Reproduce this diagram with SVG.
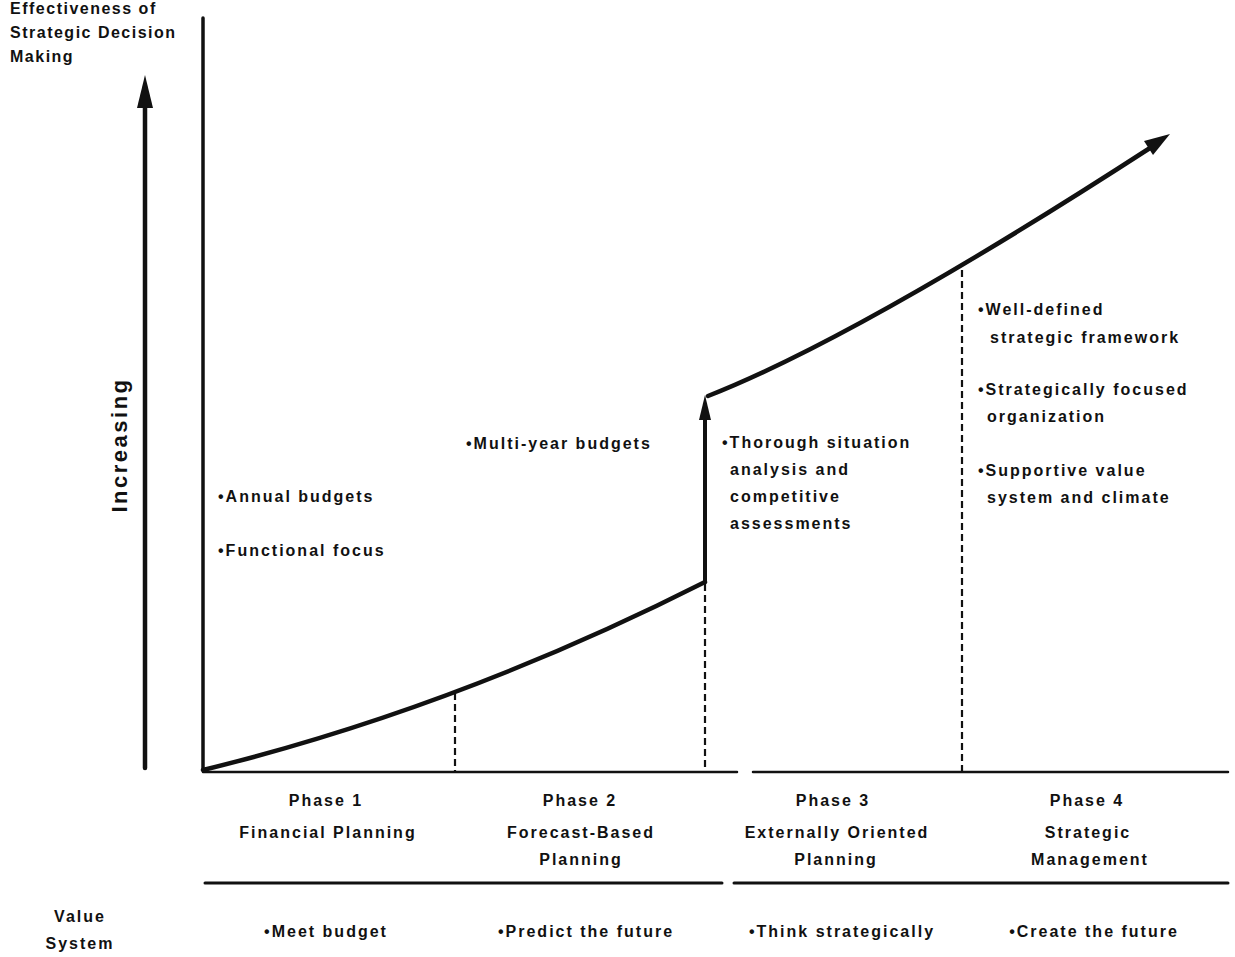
<svg xmlns="http://www.w3.org/2000/svg" width="1235" height="957" viewBox="0 0 1235 957">
<style>
  text { font-family: "Liberation Sans", Arial, sans-serif; font-weight: bold; fill: #111; }
  .hdr { font-size: 16px; letter-spacing: 1.5px; }
  .inc { font-size: 22px; letter-spacing: 2.5px; }
  .t { font-size: 16px; letter-spacing: 2px; }
  .c { text-anchor: middle; }
  .axis { stroke: #111; fill: none; stroke-linecap: round; }
  .curve { stroke: #111; fill: none; stroke-width: 4.5; stroke-linecap: round; }
  .dash { stroke: #111; fill: none; stroke-width: 2.2; stroke-dasharray: 7 4; }
</style>
<rect width="1235" height="957" fill="#fff"/>

<g id="connectors">
  <!-- y axis -->
  <line class="axis" x1="203" y1="18" x2="203" y2="770" stroke-width="3.5"/>
  <!-- increasing arrow -->
  <line class="axis" x1="145" y1="768" x2="145" y2="100" stroke-width="4.5"/>
  <path d="M145,75 L137,108 L153,108 Z" fill="#111"/>
  <!-- x axis -->
  <line class="axis" x1="203" y1="772" x2="737" y2="772" stroke-width="2.5"/>
  <line class="axis" x1="753" y1="772" x2="1228" y2="772" stroke-width="2.5"/>
  <!-- lower rule -->
  <line class="axis" x1="205" y1="883" x2="722" y2="883" stroke-width="3"/>
  <line class="axis" x1="734" y1="883" x2="1228" y2="883" stroke-width="3"/>
  <!-- dashed phase dividers -->
  <line class="dash" x1="455" y1="693" x2="455" y2="772"/>
  <line class="dash" x1="705" y1="584" x2="705" y2="772"/>
  <line class="dash" x1="962" y1="270" x2="962" y2="772"/>
  <!-- curve phase 1-2 -->
  <path class="curve" d="M203,770 Q456,708 705,582"/>
  <!-- jump arrow -->
  <line class="axis" x1="705" y1="582" x2="705" y2="415" stroke-width="4"/>
  <path d="M705,395 L699,420 L711,420 Z" fill="#111"/>
  <!-- curve phase 3-4 -->
  <path class="curve" d="M708,396 Q858,337 1150,148"/>
  <path d="M1170,134 L1144,141 L1153,155 Z" fill="#111"/>
</g>

<g id="y-axis-title">
  <text class="hdr" x="10" y="14">Effectiveness of</text>
  <text class="hdr" x="10" y="38">Strategic Decision</text>
  <text class="hdr" x="10" y="62">Making</text>
</g>

<g id="increasing-label">
  <text class="inc c" transform="translate(127,445) rotate(-90)">Increasing</text>
</g>

<g id="phase1-attributes">
  <text class="t" x="218" y="502">•Annual budgets</text>
  <text class="t" x="218" y="556">•Functional focus</text>
</g>

<g id="phase2-attributes">
  <text class="t" x="466" y="449">•Multi-year budgets</text>
</g>

<g id="phase3-attributes">
  <text class="t" x="722" y="448">•Thorough situation</text>
  <text class="t" x="730" y="475">analysis and</text>
  <text class="t" x="730" y="502">competitive</text>
  <text class="t" x="730" y="529">assessments</text>
</g>

<g id="phase4-attributes">
  <text class="t" x="978" y="315">•Well-defined</text>
  <text class="t" x="990" y="343">strategic framework</text>
  <text class="t" x="978" y="395">•Strategically focused</text>
  <text class="t" x="987" y="422">organization</text>
  <text class="t" x="978" y="476">•Supportive value</text>
  <text class="t" x="987" y="503">system and climate</text>
</g>

<g id="phase1">
  <text class="t c" x="326" y="806">Phase 1</text>
  <text class="t c" x="328" y="838">Financial Planning</text>
</g>
<g id="phase2">
  <text class="t c" x="580" y="806">Phase 2</text>
  <text class="t c" x="581" y="838">Forecast-Based</text>
  <text class="t c" x="581" y="865">Planning</text>
</g>
<g id="phase3">
  <text class="t c" x="833" y="806">Phase 3</text>
  <text class="t c" x="837" y="838">Externally Oriented</text>
  <text class="t c" x="836" y="865">Planning</text>
</g>
<g id="phase4">
  <text class="t c" x="1087" y="806">Phase 4</text>
  <text class="t c" x="1088" y="838">Strategic</text>
  <text class="t c" x="1090" y="865">Management</text>
</g>

<g id="value-system">
  <text class="t c" x="80" y="922">Value</text>
  <text class="t c" x="80" y="949">System</text>
  <text class="t c" x="326" y="937">•Meet budget</text>
  <text class="t c" x="586" y="937">•Predict the future</text>
  <text class="t c" x="842" y="937">•Think strategically</text>
  <text class="t c" x="1094" y="937">•Create the future</text>
</g>
</svg>
